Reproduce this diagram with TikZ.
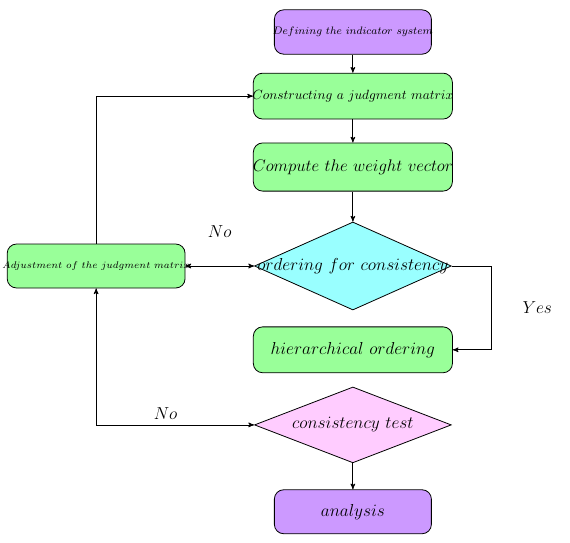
\RequirePackage{fix-cm}
\documentclass[tikz,border=0pt]{standalone}
\usepackage{amsmath,amssymb}
\usetikzlibrary{shapes,arrows}
\usetikzlibrary{positioning}
\definecolor{lilac}{HTML}{CC99FF}
\definecolor{mint}{HTML}{99FF99}
\definecolor{aqua}{HTML}{99FFFF}
\definecolor{rose}{HTML}{FFCCFF}
\tikzset{
    terminal/.style={
           rectangle, rounded corners=7pt,
           draw=black, line width=0.6pt,
           fill=lilac,
           minimum width=4.14cm,
           minimum height=1.17cm,
           inner sep=0pt,
           text centered
           },
    process/.style={
           rectangle, rounded corners=7pt,
           draw=black, line width=0.6pt,
           fill=mint,
           minimum width=5.25cm,
           minimum height=1.21cm,
           inner sep=0pt,
           text centered
           },
    decision/.style={
           diamond,
           draw=black, line width=0.6pt,
           minimum width=5.19cm,
           inner sep=0pt,
           text centered
           },
    bigtext/.style={
           font=\fontsize{13}{15}\selectfont
           }
}

\begin{document}
\begin{tikzpicture}[>=stealth', node distance=1.8cm, on grid, line width=0.6pt]
   \useasboundingbox (0,0) rectangle (15.03,-14.31);
   \node[terminal, font=\fontsize{8.1}{10}\selectfont] (def) at (9.305,-0.844)
        {\makebox[0pt]{$Defining\ the\ indicator\ system$}};
   \node[process, font=\fontsize{10}{12}\selectfont] (con) [below=1.69cm of def]
        {\makebox[0pt]{$Constructing\ a\ judgment\ matrix$}};
   \node[process, font=\fontsize{12.6}{15}\selectfont, minimum height=1.27cm] (comp) [below=1.87cm of con]
        {\makebox[0pt]{$Compute\ the\ weight\ vector$}};
   \node[decision, bigtext, fill=aqua, minimum height=2.32cm] (ord) [below=2.61cm of comp]
        {\makebox[0pt]{$ordering\ for\ consistency$}};
   \node[process, font=\fontsize{7.25}{9}\selectfont, minimum width=4.69cm, minimum height=1.16cm]
        (adj) [left=6.77cm of ord] {\makebox[0pt]{$Adjustment\ of\ the\ judgment\ matrix$}};
   \node[process, bigtext] (hier) [below=2.21cm of ord] {$hierarchical\ ordering$};
   \node[decision, bigtext, fill=rose, minimum height=2.0cm] (cons) [below=1.98cm of hier]
        {\makebox[0pt]{$consistency\ test$}};
   \node[terminal, bigtext, minimum height=1.16cm] (ana) [below=2.29cm of cons] {$analysis$};

   \draw[->] (def) -- (con);
   \draw[->] (con) -- (comp);
   \draw[->] (comp) -- (ord);
   \draw[<->] (adj.east) -- node[midway, above=0.62cm, bigtext] {$No$} (ord.west);
   \draw[->] (adj.north) |- (con.west);
   \draw[->] (ord.east) -- ++(1.05,0) |- node[pos=0.25, right=0.69cm, bigtext] {$Yes$} (hier.east);
   \draw[<->] (adj.south) |- node[pos=0.72, above=0.02cm, bigtext] {$No$} (cons.west);
   \draw[->] (cons) -- (ana);
\end{tikzpicture}
\end{document}
